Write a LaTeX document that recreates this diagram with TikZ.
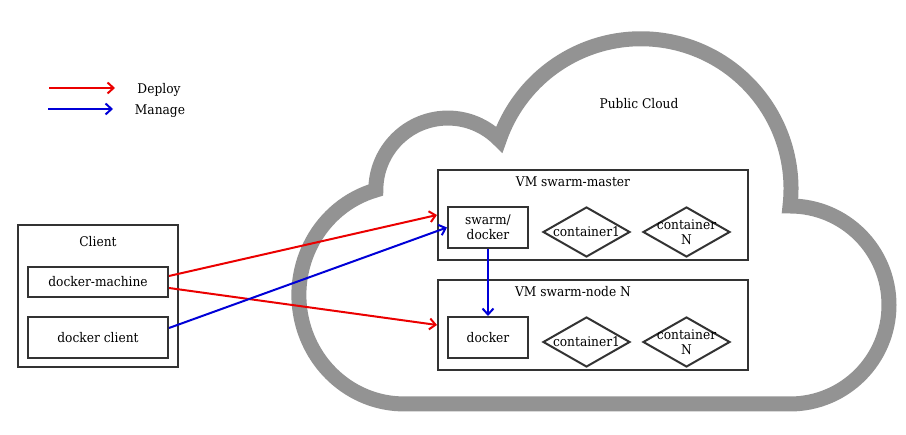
\documentclass[tikz,border=0pt]{standalone}
\usepackage{fontspec}
\setmainfont{DejaVu Serif}[FakeStretch=0.92]
\usepackage{tikz}
\usetikzlibrary{arrows.meta,positioning,shapes.geometric}
\definecolor{cloudgray}{RGB}{147,147,147}
\definecolor{boxline}{RGB}{51,51,51}
\definecolor{deployred}{RGB}{235,0,0}
\definecolor{manageblue}{RGB}{0,0,215}
\tikzset{
  box/.style={draw=boxline,line width=2pt,inner sep=0pt},
  cont/.style={diamond,draw=boxline,line width=2pt,inner sep=0pt,
    minimum width=87pt,minimum height=50pt},
  deploy/.style={->,draw=deployred,line width=2pt},
  manage/.style={->,draw=manageblue,line width=2pt},
}
\begin{document}
\begin{tikzpicture}[x=1pt,y=1pt,font=\fontsize{13.3}{15}\selectfont,
  >={Straight Barb[length=6pt,width=11pt]}]
  \useasboundingbox (0,0) rectangle (906,435);
  \draw[cloudgray,line width=15pt] (403.95,31) -- (790,31)
    arc[start angle=-90,end angle=90,radius=99]
    arc[start angle=-6.6,end angle=160.9,radius=150]
    arc[start angle=44.4,end angle=180,radius=72]
    arc[start angle=105.5,end angle=270,x radius=105,y radius=108.93] -- cycle;
  \node (cloud) at (639,331) {Public Cloud};

  \coordinate (dep0) at (49,347);
  \coordinate (dep1) at (115,347);
  \coordinate (man0) at (48,326);
  \coordinate (man1) at (113,326);
  \draw[deploy] (dep0) -- (dep1);
  \draw[manage] (man0) -- (man1);
  \node (deploy) at (159,345) {Deploy};
  \node (manage) at (160,324) {Manage};

  \node[box,minimum width=160pt,minimum height=142pt] (client) at (98,139) {};
  \node (clientlbl) at (98,193) {Client};
  \node[box,minimum width=140pt,minimum height=30pt] (dm) at (98,153) {docker-machine};
  \node[box,minimum width=140pt,minimum height=41pt] (dc) at (98,97.5) {docker client};

  \node[box,minimum width=310pt,minimum height=90pt] (master) at (593,220) {};
  \node (masterlbl) at (573,253) {VM swarm-master};
  \node[box,minimum width=80pt,minimum height=41pt,align=center] (sd) at (488,207.5) {swarm/\\docker};
  \node[cont,label={center:container1}] (mc1) at (586.5,203) {};
  \node[cont,label={[align=center]center:container\\N}] (mcN) at (686.5,203) {};

  \node[box,minimum width=310pt,minimum height=90pt] (vmnode) at (593,110) {};
  \node (vmnodelbl) at (573,143) {VM swarm-node N};
  \node[box,minimum width=80pt,minimum height=41pt] (dk) at (488,97.5) {docker};
  \node[cont,label={center:container1}] (nc1) at (586.5,93) {};
  \node[cont,label={[align=center]center:container\\N}] (ncN) at (686.5,93) {};

  \draw[deploy] ([yshift=6pt]dm.east) -- (master.west);
  \draw[deploy] ([yshift=-6pt]dm.east) -- (vmnode.west);
  \draw[manage] ([yshift=9.5pt]dc.east) -- (sd.west);
  \draw[manage] (sd) -- (dk);
\end{tikzpicture}
\end{document}
